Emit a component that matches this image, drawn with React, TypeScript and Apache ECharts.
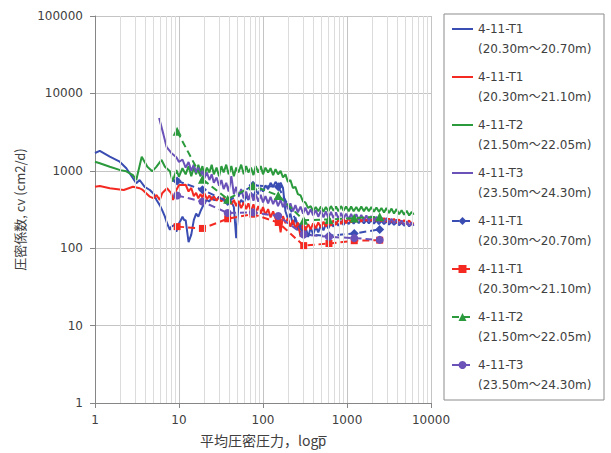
import React, { useEffect, useRef } from "react";
import * as echarts from "echarts";

// ---------- data ----------
const pressureGrid = [
  12, 13, 14, 15, 16, 17, 18, 19, 20, 21.5,
  23, 24.5, 26, 28, 30, 32, 34, 36.5, 39, 42,
  45, 48, 51, 55, 59, 63, 67, 72, 77, 82,
  88, 94, 100, 107, 115, 123, 132, 141, 151, 162,
  173, 185, 198, 212, 227, 243, 260, 280, 300, 320,
  345, 370, 395, 425, 455, 490, 525, 560, 600, 645,
  690, 740, 790, 850, 910, 975, 1050, 1120, 1200, 1290,
  1380, 1480, 1590, 1700, 1820, 1950, 2090, 2240, 2400, 2570,
  2760, 2950, 3160, 3390, 3630, 3890, 4170, 4470, 4790, 5130,
  5500, 5900, 6200,
];

const blueEarlyP = [1, 1.14, 1.5, 1.97, 2.36, 2.83, 3.1, 3.4, 3.9, 4.5, 4.95, 5.4, 5.9, 6.3, 6.8, 7.2, 7.8, 8.1, 8.9, 9.3, 10, 10.5, 11, 11.5];
const blueEarlyCv = [1700, 1810, 1520, 1310, 1080, 800, 690, 760, 620, 565, 510, 420, 360, 310, 255, 210, 172, 190, 200, 163, 210, 230, 255, 231];
const blueGridCv = [
  230, 120, 150, 230, 280, 255, 300, 340, 380, 420,
  400, 460, 420, 420, 465, 420, 440, 380, 420, 400,
  340, 135, 360, 420, 380, 480, 420, 520, 460, 560,
  500, 600, 540, 650, 580, 700, 620, 720, 640, 700,
  600, 300, 240, 280, 200, 250, 170, 210, 150, 190,
  140, 185, 150, 190, 160, 200, 170, 205, 180, 215,
  190, 220, 195, 225, 200, 228, 205, 230, 208, 232,
  210, 232, 210, 230, 210, 230, 208, 228, 205, 225,
  205, 222, 202, 220, 200, 218, 198, 215, 195, 212,
  192, 208, 195,
];

const redEarlyP = [1, 1.14, 1.5, 2.2, 2.83, 3.4, 3.7, 4.5, 5, 5.4, 5.9, 6.3, 7.2, 8.1, 8.5, 9.3, 10, 11];
const redEarlyCv = [623, 635, 595, 565, 623, 595, 565, 463, 440, 487, 420, 512, 595, 512, 420, 565, 655, 655];
const redGridCv = [
  660, 540, 600, 470, 520, 440, 500, 450, 520, 430,
  480, 420, 470, 410, 460, 400, 450, 390, 430, 370,
  420, 350, 410, 330, 390, 320, 380, 300, 370, 290,
  350, 280, 340, 270, 320, 250, 300, 240, 280, 160,
  260, 210, 245, 190, 230, 180, 215, 140, 210, 170,
  205, 175, 210, 180, 215, 185, 220, 190, 225, 195,
  230, 200, 235, 205, 240, 210, 245, 215, 250, 220,
  250, 220, 250, 225, 250, 225, 250, 225, 248, 222,
  245, 220, 242, 218, 240, 215, 235, 212, 230, 210,
  228, 205, 215,
];

const greenEarlyP = [1, 1.14, 1.5, 2, 2.36, 2.83, 3.1, 3.6, 4.2, 4.8, 5.4, 6.2, 6.8, 7.8, 8.4, 9.3, 10, 11];
const greenEarlyCv = [1310, 1250, 1130, 1020, 985, 880, 760, 1520, 1130, 985, 1130, 1380, 1130, 985, 725, 1020, 840, 1080];
const greenGridCv = [
  900, 1150, 850, 1100, 900, 1200, 950, 1150, 880, 1100,
  950, 1200, 900, 1100, 850, 1150, 950, 1200, 900, 1150,
  850, 1100, 950, 1200, 900, 1150, 950, 1100, 880, 1150,
  950, 1150, 900, 1100, 950, 1080, 880, 1050, 900, 1000,
  820, 900, 720, 760, 600, 620, 500, 480, 400, 390,
  330, 350, 300, 340, 300, 345, 295, 340, 300, 350,
  305, 345, 300, 350, 305, 345, 300, 345, 300, 340,
  300, 345, 300, 340, 300, 340, 295, 335, 295, 330,
  290, 330, 285, 325, 280, 320, 275, 310, 270, 305,
  265, 295, 270,
];

const purpleEarlyP = [5.8, 6.5, 7.1, 8.1, 9.3, 10, 11];
const purpleEarlyCv = [4800, 3000, 2040, 1700, 1500, 1300, 1400];
const purpleGridCv = [
  1100, 1300, 1000, 1200, 950, 1100, 850, 1000, 800, 950,
  760, 900, 700, 820, 640, 760, 580, 700, 540, 850,
  500, 620, 460, 580, 440, 540, 430, 520, 410, 500,
  400, 490, 390, 470, 380, 460, 370, 440, 350, 420,
  340, 400, 320, 380, 300, 360, 290, 345, 280, 335,
  270, 320, 265, 310, 255, 305, 250, 300, 245, 295,
  245, 290, 240, 285, 240, 280, 235, 278, 232, 275,
  230, 270, 228, 265, 225, 260, 222, 255, 220, 250,
  215, 245, 212, 240, 208, 235, 205, 228, 200, 222,
  196, 215, 195,
];

// step-loading tests (dashed, with markers)
const stepP = [9.5, 19, 38, 76, 152, 305, 610, 1220, 2450];
const blueStepCv = [740, 570, 400, 650, 620, 150, 145, 155, 175];
const redStepCv = [190, 180, 240, 275, 215, 108, 115, 125, 127];
const greenStepCv = [3250, 780, 430, 640, 480, 230, 235, 245, 255];
const purpleStepCv = [480, 400, 285, 290, 260, 150, 140, 135, 128];

const minorGridP = [2, 3, 4, 5, 6, 7, 8, 9, 20, 30, 40, 50, 60, 70, 80, 90, 200, 300, 400, 500, 600, 700, 800, 900, 2000, 3000, 4000, 5000, 6000, 7000, 8000, 9000];

const seriesIds = ["b1", "r1", "g1", "p1", "b2", "r2", "g2", "p2"];
const legendTitles = ["4-11-T1", "4-11-T1", "4-11-T2", "4-11-T3", "4-11-T1", "4-11-T1", "4-11-T2", "4-11-T3"];
const legendRanges = [
  "(20.30m～20.70m)", "(20.30m～21.10m)", "(21.50m～22.05m)", "(23.50m～24.30m)",
  "(20.30m～20.70m)", "(20.30m～21.10m)", "(21.50m～22.05m)", "(23.50m～24.30m)",
];

const BLUE = "#3A4DB2";
const RED = "#F42A22";
const GREEN = "#2A9A3C";
const PURPLE = "#6B52B8";

function pairs(p: number[], cv: number[]): number[][] {
  return p.map((x, i) => [x, cv[i]]);
}

export default function App() {
  const ref = useRef<HTMLDivElement>(null);

  useEffect(() => {
    if (!ref.current) return;
    const chart = echarts.init(ref.current, null, { renderer: "svg" });
    const font = "DejaVu Sans, Noto Sans CJK JP, sans-serif";
    const cjk = "Noto Sans CJK JP, sans-serif";

    const solid = (name: string, color: string, data: number[][]) => ({
      name,
      type: "line",
      data,
      symbol: "none",
      showSymbol: false,
      lineStyle: { color, width: 2 },
      itemStyle: { color },
    });
    const dashed = (name: string, color: string, symbol: string, size: number, data: number[][]) => ({
      name,
      type: "line",
      data,
      symbol,
      symbolSize: size,
      showSymbol: true,
      lineStyle: { color, width: 2, type: [7, 4] },
      itemStyle: { color },
    });

    const legendData = seriesIds.map((id, i) =>
      i < 4 ? { name: id, itemStyle: { opacity: 0 } } : { name: id }
    );

    chart.setOption({
      animation: false,
      backgroundColor: "#ffffff",
      grid: { left: 95, right: 180, top: 16, bottom: 50, containLabel: false },
      legend: {
        orient: "vertical",
        left: 451,
        top: -1,
        padding: 0,
        itemWidth: 21,
        itemHeight: 10,
        itemGap: -12,
        selectedMode: false,
        data: legendData,
        formatter: (name: string) => {
          const i = seriesIds.indexOf(name);
          return "\n" + legendTitles[i] + "\n" + legendRanges[i];
        },
        textStyle: { fontFamily: font, fontSize: 12, color: "#404040", lineHeight: 20 },
      },
      graphic: [
        {
          type: "rect",
          shape: { x: 444, y: 14, width: 160, height: 386 },
          style: { fill: "none", stroke: "#8c8c8c", lineWidth: 1 },
          silent: true,
        },
      ],
      xAxis: {
        type: "log",
        logBase: 10,
        min: 1,
        max: 10000,
        name: "平均圧密圧力，logp\u0305",
        nameLocation: "middle",
        nameGap: 30,
        nameTextStyle: { fontFamily: cjk, fontSize: 14, color: "#404040" },
        axisLine: { show: true, lineStyle: { color: "#868686", width: 1 } },
        axisTick: { show: true, length: 5, lineStyle: { color: "#868686" } },
        axisLabel: {
          margin: 11,
          fontFamily: font,
          fontSize: 12,
          color: "#404040",
          formatter: (v: number) => String(Math.round(v)),
        },
        splitLine: { show: true, lineStyle: { color: "#c4c4c4", width: 1 } },
      },
      yAxis: {
        type: "log",
        logBase: 10,
        min: 1,
        max: 100000,
        name: "圧密係数, cv (cm2/d)",
        nameLocation: "middle",
        nameRotate: 90,
        nameGap: 55,
        nameTextStyle: { fontFamily: cjk, fontSize: 13, color: "#404040" },
        axisLine: { show: true, lineStyle: { color: "#868686", width: 1 } },
        axisTick: { show: true, length: 5, lineStyle: { color: "#868686" } },
        axisLabel: {
          margin: 12,
          fontFamily: font,
          fontSize: 12,
          color: "#404040",
          formatter: (v: number) => String(Math.round(v)),
        },
        splitLine: { show: true, lineStyle: { color: "#c4c4c4", width: 1 } },
      },
      series: [
        {
          name: "minor-grid",
          type: "line",
          data: [],
          silent: true,
          z: 1,
          markLine: {
            silent: true,
            symbol: ["none", "none"],
            label: { show: false },
            lineStyle: { color: "#dcdcdc", type: "solid", width: 1 },
            emphasis: { disabled: true },
            data: minorGridP.map((v) => ({ xAxis: v })),
          },
        },
        solid("b1", BLUE, pairs([...blueEarlyP, ...pressureGrid], [...blueEarlyCv, ...blueGridCv])),
        solid("r1", RED, pairs([...redEarlyP, ...pressureGrid], [...redEarlyCv, ...redGridCv])),
        solid("g1", GREEN, pairs([...greenEarlyP, ...pressureGrid], [...greenEarlyCv, ...greenGridCv])),
        solid("p1", PURPLE, pairs([...purpleEarlyP, ...pressureGrid], [...purpleEarlyCv, ...purpleGridCv])),
        dashed("b2", BLUE, "diamond", 9, pairs(stepP, blueStepCv)),
        dashed("r2", RED, "rect", 7, pairs(stepP, redStepCv)),
        dashed("g2", GREEN, "triangle", 9, pairs(stepP, greenStepCv)),
        dashed("p2", PURPLE, "circle", 8, pairs(stepP, purpleStepCv)),
      ],
    });

    return () => chart.dispose();
  }, []);

  return (
    <div
      ref={ref}
      style={{ position: "fixed", left: 0, top: 0, width: 611, height: 453, background: "#fff" }}
    />
  );
}
